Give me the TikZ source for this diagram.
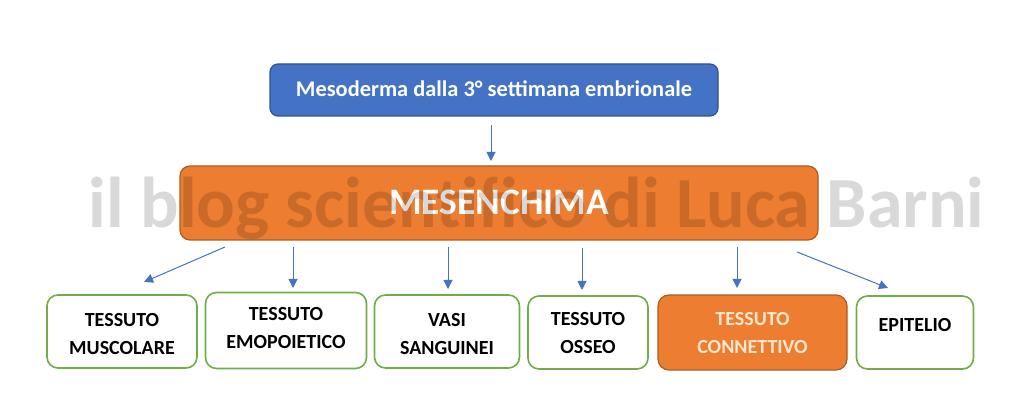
\documentclass[tikz,border=0pt]{standalone}
\usepackage{fontspec}
\setmainfont{Carlito}
\usetikzlibrary{arrows.meta}
\definecolor{blueF}{HTML}{4472C4}
\definecolor{blueD}{HTML}{2F528F}
\definecolor{orangeF}{HTML}{ED7D31}
\definecolor{orangeD}{HTML}{AE5A21}
\definecolor{greenB}{HTML}{70AD47}
\definecolor{cream}{HTML}{FFE6CC}
\tikzset{
  topbox/.style={draw=blueD, fill=blueF, line width=1.2pt, rounded corners=8pt, inner sep=0pt},
  mainbox/.style={draw=orangeD, fill=orangeF, line width=1.2pt, rounded corners=10pt, inner sep=0pt},
  leafbox/.style={draw=greenB, fill=white, line width=1.6pt, rounded corners=11pt, inner sep=0pt},
  hotbox/.style={draw=orangeD, fill=orangeF, line width=1.2pt, rounded corners=11pt, inner sep=0pt},
  leaftext/.style={font=\bfseries\fontsize{20}{28}\selectfont, align=center, inner sep=0pt},
  link/.style={draw=blueF, line width=1pt, -{Triangle[width=9pt,length=9pt]}},
}
\begin{document}
\begin{tikzpicture}[x=1pt,y=-1pt]
\useasboundingbox (0,0) rectangle (1024,419);
% top
\node[topbox, minimum width=448pt, minimum height=52pt] (top) at (494,90) {};
\node[font=\bfseries\fontsize{22.4}{26}\selectfont, text=white, inner sep=0pt] (toptext) at (494,89) {Mesoderma dalla 3° settimana embrionale};
% main
\node[mainbox, minimum width=638pt, minimum height=74pt] (mes) at (499,203) {};
\node[font=\bfseries\fontsize{37.4}{40}\selectfont, text=white, inner sep=0pt] (mestext) at (499,202) {MESENCHIMA};
% leaves
\node[leafbox, minimum width=150pt, minimum height=73pt] (b1) at (122,331.5) {};
\node[leafbox, minimum width=161pt, minimum height=76pt] (b2) at (286,330.5) {};
\node[leafbox, minimum width=145pt, minimum height=73pt] (b3) at (447,331.5) {};
\node[leafbox, minimum width=120pt, minimum height=73pt] (b4) at (588,332.5) {};
\node[hotbox, minimum width=189pt, minimum height=75pt] (b5) at (752.5,332.5) {};
\node[leafbox, minimum width=117pt, minimum height=73pt] (b6) at (915,332.5) {};
\node[leaftext] (t1) at (122,334.5) {TESSUTO\\MUSCOLARE};
\node[leaftext] (t2) at (286,328.5) {TESSUTO\\EMOPOIETICO};
\node[leaftext] (t3) at (447,334) {VASI\\SANGUINEI};
\node[leaftext] (t4) at (588,333.5) {TESSUTO\\OSSEO};
\node[leaftext, text=cream] (t5) at (752.5,333) {TESSUTO\\CONNETTIVO};
\node[leaftext] (t6) at (915,325) {EPITELIO};
% arrow end points
\coordinate (s0) at (491,125); \coordinate (e0) at (491,161);
\coordinate (s1) at (225,247); \coordinate (e1) at (144,282);
\coordinate (s2) at (293,247); \coordinate (e2) at (293,288);
\coordinate (s3) at (448,247); \coordinate (e3) at (448,289);
\coordinate (s4) at (582,248); \coordinate (e4) at (582,290);
\coordinate (s5) at (737,247); \coordinate (e5) at (737,288);
\coordinate (s6) at (797,252); \coordinate (e6) at (888,288);
\foreach \i in {0,...,6} {\draw[link] (s\i) -- (e\i);}
% watermark
\node[font=\bfseries\fontsize{72}{78}\selectfont, text=black, text opacity=0.15, inner sep=0pt, anchor=base] (wm) at (536.5,228) {il blog scientifico di Luca Barni};
\end{tikzpicture}
\end{document}
